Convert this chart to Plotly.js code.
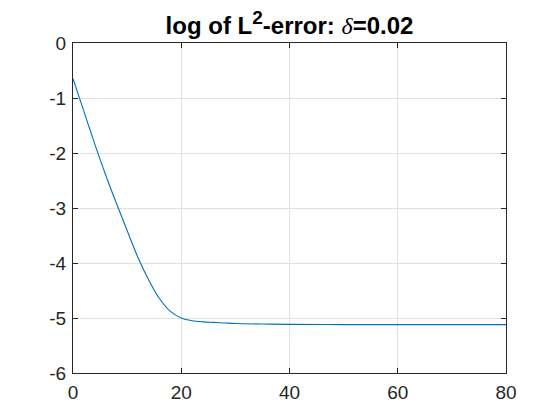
<!DOCTYPE html>
<html>
<head>
<meta charset="utf-8">
<script src="https://cdn.plot.ly/plotly-3.0.1.min.js"></script>
<style>html,body{margin:0;padding:0;background:#fff;}#chart{width:560px;height:420px;}</style>
</head>
<body>
<div id="chart"></div>
<script>
var iterations = [0,2,4,6,8,10,12,14,16,18,20,22,24,26,28,30,35,40,50,60,70,80];
var logError = [-0.65,-1.24,-1.83,-2.39,-2.91,-3.41,-3.90,-4.31,-4.65,-4.88,-5.00,-5.05,-5.07,-5.08,-5.09,-5.10,-5.11,-5.115,-5.12,-5.12,-5.12,-5.12];
var xTicks = [0,20,40,60,80];
var yTicks = [-6,-5,-4,-3,-2,-1,0];
var titleText = 'log of L<sup><span style="font-size:19px">2</span></sup>-error: <span style="font-family:\'Liberation Serif\',serif;font-style:italic;font-weight:normal">δ</span>=0.02';

var axisCommon = {
  showline: true, linecolor: '#262626', linewidth: 1, mirror: 'ticks',
  ticks: 'inside', ticklen: 5, tickcolor: '#262626',
  showgrid: true, gridcolor: '#e1e1e1', gridwidth: 1,
  zeroline: false,
  tickfont: {family: 'Liberation Sans, Arial, sans-serif', size: 19, color: '#262626'}
};

var trace = {
  x: iterations, y: logError, type: 'scatter', mode: 'lines',
  line: {color: '#0072BD', width: 1.1, shape: 'spline', smoothing: 1},
  showlegend: false
};

var layout = {
  width: 560, height: 420,
  margin: {l: 73, r: 54, t: 43, b: 47},
  paper_bgcolor: '#ffffff', plot_bgcolor: '#ffffff',
  title: {text: titleText, xref: 'paper', x: 0.5, xanchor: 'center', y: 0.918, yanchor: 'bottom',
    font: {family: 'Liberation Sans, Arial, sans-serif', size: 24, color: '#000', weight: 'bold'}},
  xaxis: Object.assign({}, axisCommon, {range: [0, 80], tickvals: xTicks, ticktext: xTicks.map(String), ticklabelstandoff: 2}),
  yaxis: Object.assign({}, axisCommon, {range: [-6, 0], tickvals: yTicks, ticktext: yTicks.map(String), ticklabelstandoff: 2})
};

Plotly.newPlot('chart', [trace], layout, {displayModeBar: false, staticPlot: true});
</script>
</body>
</html>
